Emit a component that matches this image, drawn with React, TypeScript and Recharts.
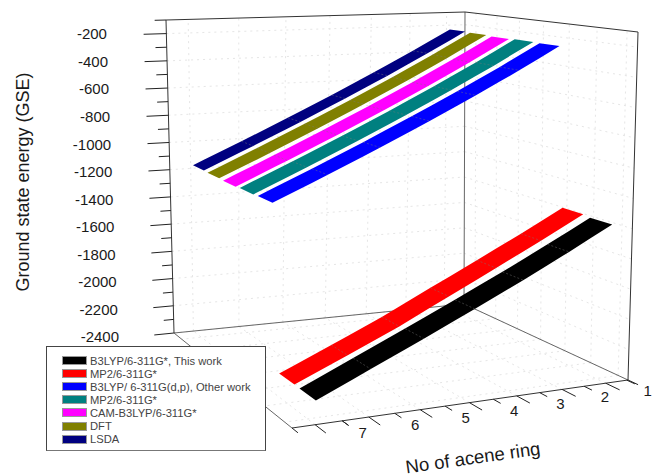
import { Area, ComposedChart, Legend, Line, Scatter, XAxis, YAxis } from "recharts";

const RINGS = [2, 3, 4, 5, 6, 7, 8];
const RING_LABELS = [1, 2, 3, 4, 5, 6, 7];
const GSE_MAJOR = [-200, -400, -600, -800, -1000, -1200, -1400, -1600, -1800, -2000, -2200, -2400];
const GSE_MINOR = [-300, -500, -700, -900, -1100, -1300, -1500, -1700, -1900, -2100, -2300];

const NAMES = [
  "B3LYP/6-311G*, This work",
  "MP2/6-311G*",
  "B3LYP/ 6-311G(d,p), Other work",
  "MP2/6-311G*",
  "CAM-B3LYP/6-311G*",
  "DFT",
  "LSDA",
];
const COLORS = ["#000000", "#ff0000", "#0000ff", "#008080", "#ff00ff", "#808000", "#000080"];
const DEPTHS = [1, 2, 3, 4, 5, 6, 7];

const THIS_WORK = [-1356, -1505, -1655, -1803, -1952, -2100, -2249];
const MP2_A = [-1346, -1496, -1647, -1800, -1958, -2104, -2247];
const OTHER_WORK = [-238, -392, -546, -700, -855, -1010, -1165];
const MP2_B = [-235, -390, -546, -701, -857, -1013, -1169];
const CAM = [-238, -394, -550, -706, -862, -1018, -1174];
const DFT = [-233, -389, -546, -702, -858, -1015, -1171];
const LSDA = [-229, -385, -541, -698, -854, -1011, -1167];
const VALUES = [THIS_WORK, MP2_A, OTHER_WORK, MP2_B, CAM, DFT, LSDA];

type Pt = { sx: number; sy: number };

// box corners on screen, order: front right, front left, back left, back right
const FLOOR = [[628, 380], [292, 428], [174, 333], [464, 304]];
const TOP = [[638, 32], [287.6, 50], [166, 20], [465, 12]];

function homography(q: number[][]) {
  const [[x0, y0], [x1, y1], [x2, y2], [x3, y3]] = q;
  const dx1 = x1 - x2, dy1 = y1 - y2, dx2 = x3 - x2, dy2 = y3 - y2;
  const dx3 = x0 - x1 + x2 - x3, dy3 = y0 - y1 + y2 - y3;
  const den = dx1 * dy2 - dx2 * dy1;
  const g = (dx3 * dy2 - dx2 * dy3) / den;
  const h = (dx1 * dy3 - dx3 * dy1) / den;
  const a = x1 - x0 + g * x1, b = x3 - x0 + h * x3;
  const d = y1 - y0 + g * y1, e = y3 - y0 + h * y3;
  return (u: number, w: number) => {
    const k = g * u + h * w + 1;
    return [(a * u + b * w + x0) / k, (d * u + e * w + y0) / k];
  };
}
const floorAt = homography(FLOOR);
const topAt = homography(TOP);

function project(u: number, w: number, v: number): Pt {
  const f = floorAt(u, w);
  const t = topAt(u, w);
  return { sx: f[0] + (t[0] - f[0]) * v, sy: f[1] + (t[1] - f[1]) * v };
}

const ringU = (r: number) => 0.076 + 0.144 * (r - 2);
const depthW = (z: number) => 0.05 + 0.145 * (z - 1);
const gseV = (g: number) => (g + 2400) / 2300;
const HALF = 0.055;

function yOnPath(path: Pt[], x: number) {
  for (let i = 0; i < path.length - 1; i++) {
    const a = path[i], b = path[i + 1];
    if (x >= a.sx && x <= b.sx) {
      if (b.sx === a.sx) return a.sy;
      return a.sy + ((b.sy - a.sy) * (x - a.sx)) / (b.sx - a.sx);
    }
  }
  return path[path.length - 1].sy;
}

// ribbon outline as a band over screen x, for <Area> range values
function ribbonBand(values: number[], z: number) {
  const w = depthW(z);
  const back = RINGS.map((r, i) => project(ringU(r), w + HALF, gseV(values[i]))).reverse();
  const front = RINGS.map((r, i) => project(ringU(r), w - HALF, gseV(values[i]))).reverse();
  const upper = [...back, front[front.length - 1]];
  const lower = [back[0], ...front];
  const xs = Array.from(new Set([...upper, ...lower].map((p) => p.sx))).sort((a, b) => a - b);
  return xs.map((x) => ({ sx: x, band: [yOnPath(lower, x), yOnPath(upper, x)] }));
}

const seg = (a: Pt, b: Pt) => [a, b];

const gridLines: Pt[][] = [];
GSE_MAJOR.forEach((g) => {
  const v = gseV(g);
  gridLines.push(seg(project(1, 1, v), project(0, 1, v)));
  gridLines.push(seg(project(0, 1, v), project(0, 0, v)));
});
RINGS.forEach((r) => {
  gridLines.push(seg(project(ringU(r), 1, 0), project(ringU(r), 1, 1)));
  gridLines.push(seg(project(ringU(r), 0, 0), project(ringU(r), 1, 0)));
});
DEPTHS.forEach((z) => {
  gridLines.push(seg(project(0, depthW(z), 0), project(0, depthW(z), 1)));
  gridLines.push(seg(project(0, depthW(z), 0), project(1, depthW(z), 0)));
});

const frameLines: Pt[][] = [
  seg(project(1, 1, 0), project(1, 1, 1)),
  seg(project(1, 1, 1), project(0, 1, 1)),
  seg(project(0, 1, 1), project(0, 0, 1)),
  seg(project(0, 0, 1), project(0, 0, 0)),
  seg(project(0, 0, 0), project(1, 0, 0)),
];
const softLines: Pt[][] = [
  seg(project(1, 1, 0), project(0, 1, 0)),
  seg(project(0, 1, 0), project(0, 0, 0)),
  seg(project(1, 0, 0), project(1, 1, 0)),
  seg(project(0, 1, 0), project(0, 1, 1)),
];

const tickLines: Pt[][] = [];
GSE_MAJOR.forEach((g) => tickLines.push(seg(project(1, 1, gseV(g)), project(1.06, 1, gseV(g)))));
GSE_MINOR.forEach((g) => tickLines.push(seg(project(1, 1, gseV(g)), project(1.03, 1, gseV(g)))));
tickLines.push(seg(project(1, 1, 1), project(1.03, 1, 1)));
RINGS.forEach((r) => {
  tickLines.push(seg(project(ringU(r), 0, 0), project(ringU(r), -0.07, 0)));
  tickLines.push(seg(project(ringU(r - 0.5), 0, 0), project(ringU(r - 0.5), -0.04, 0)));
});
tickLines.push(seg(project(ringU(7.5), 0, 0), project(ringU(7.5), -0.04, 0)));
tickLines.push(seg(project(0, 0, 0), project(0, -0.05, 0)));
tickLines.push(seg(project(1, 0, 0), project(1, -0.04, 0)));

const ribbonMarks: Pt[][] = [];
VALUES.forEach((vals, i) => {
  RINGS.slice(1, -1).forEach((r, k) => {
    const w = depthW(DEPTHS[i]);
    const v = gseV(vals[k + 1]);
    ribbonMarks.push(seg(project(ringU(r), w + HALF, v), project(ringU(r), w - HALF, v)));
  });
});

const yTickTexts = GSE_MAJOR.map((g) => ({
  ...project(1.165 - 0.0125 * gseV(g), 1, gseV(g)),
  label: String(g),
}));
const ringTexts = RING_LABELS.map((r) => ({
  ...project(0.076 + 0.142 * (r - 2) + 0.075, -0.11, 0),
  label: String(r),
}));

const FONT = "'Liberation Sans', Arial, sans-serif";

function YTickText(p: any) {
  return (
    <text x={p.cx} y={p.cy + 4} textAnchor="end" fontFamily={FONT} fontSize={15} fill="#1a1a1a">
      {p.payload.label}
    </text>
  );
}
function RingText(p: any) {
  return (
    <text x={p.cx} y={p.cy + 5} textAnchor="middle" fontFamily={FONT} fontSize={15} fill="#1a1a1a">
      {p.payload.label}
    </text>
  );
}

function BoxLegend() {
  return (
    <div
      style={{
        width: 220,
        height: 105,
        boxSizing: "border-box",
        border: "1px solid #444",
        borderBottomColor: "#777",
        background: "#fff",
        paddingTop: 7,
        fontFamily: FONT,
        fontSize: 11.2,
        color: "#444",
      }}
    >
      {NAMES.map((name, i) => (
        <div key={i} style={{ display: "flex", alignItems: "center", height: 13.1, whiteSpace: "nowrap" }}>
          <span
            style={{
              display: "inline-block",
              width: 25,
              height: 9,
              marginLeft: 15,
              marginRight: 3,
              boxSizing: "border-box",
              border: "1px solid #999",
              background: COLORS[i],
            }}
          />
          {name}
        </div>
      ))}
    </div>
  );
}

export default function App() {
  return (
    <div style={{ position: "absolute", left: 0, top: 0, width: 654, height: 476, background: "#fff" }}>
      <ComposedChart width={654} height={476} margin={{ top: 0, right: 0, bottom: 0, left: 0 }}>
        <XAxis dataKey="sx" type="number" domain={[0, 654]} hide allowDataOverflow />
        <YAxis type="number" domain={[0, 476]} reversed hide allowDataOverflow />
        {gridLines.map((d, i) => (
          <Line key={"g" + i} data={d} dataKey="sy" stroke="#e6e6e6" strokeWidth={1} strokeDasharray="2 4" dot={false} legendType="none" isAnimationActive={false} />
        ))}
        {softLines.map((d, i) => (
          <Line key={"s" + i} data={d} dataKey="sy" stroke="#666666" strokeWidth={1} dot={false} legendType="none" isAnimationActive={false} />
        ))}
        {frameLines.map((d, i) => (
          <Line key={"f" + i} data={d} dataKey="sy" stroke="#333333" strokeWidth={1} dot={false} legendType="none" isAnimationActive={false} />
        ))}
        {tickLines.map((d, i) => (
          <Line key={"t" + i} data={d} dataKey="sy" stroke="#222222" strokeWidth={1} dot={false} legendType="none" isAnimationActive={false} />
        ))}
        {VALUES.map((vals, i) => (
          <Area key={"r" + i} zIndex={450} name={NAMES[i]} data={ribbonBand(vals, DEPTHS[i])} dataKey="band" type="linear" fill={COLORS[i]} fillOpacity={1} stroke="none" dot={false} activeDot={false} isAnimationActive={false} />
        ))}
        {ribbonMarks.map((d, i) => (
          <Line key={"m" + i} zIndex={460} data={d} dataKey="sy" stroke="#777777" strokeOpacity={0.45} strokeWidth={1} strokeDasharray="2 2" dot={false} legendType="none" isAnimationActive={false} />
        ))}
        <Scatter data={yTickTexts} dataKey="sy" shape={YTickText} legendType="none" isAnimationActive={false} />
        <Scatter data={ringTexts} dataKey="sy" shape={RingText} legendType="none" isAnimationActive={false} />
        <Legend layout="vertical" align="center" verticalAlign="middle" content={BoxLegend} wrapperStyle={{ left: 46, top: 346, width: 220, height: 105 }} />
      </ComposedChart>
      <div style={{ position: "absolute", left: 23, top: 182, transform: "translate(-50%,-50%) rotate(-90deg)", whiteSpace: "nowrap", fontFamily: FONT, fontSize: 18, color: "#1a1a1a" }}>
        Ground state energy (GSE)
      </div>
      <div style={{ position: "absolute", left: 473, top: 458, transform: "translate(-50%,-50%) rotate(-8deg)", whiteSpace: "nowrap", fontFamily: FONT, fontSize: 18.5, lineHeight: "20px", color: "#1a1a1a" }}>
        No of acene ring
      </div>
    </div>
  );
}
